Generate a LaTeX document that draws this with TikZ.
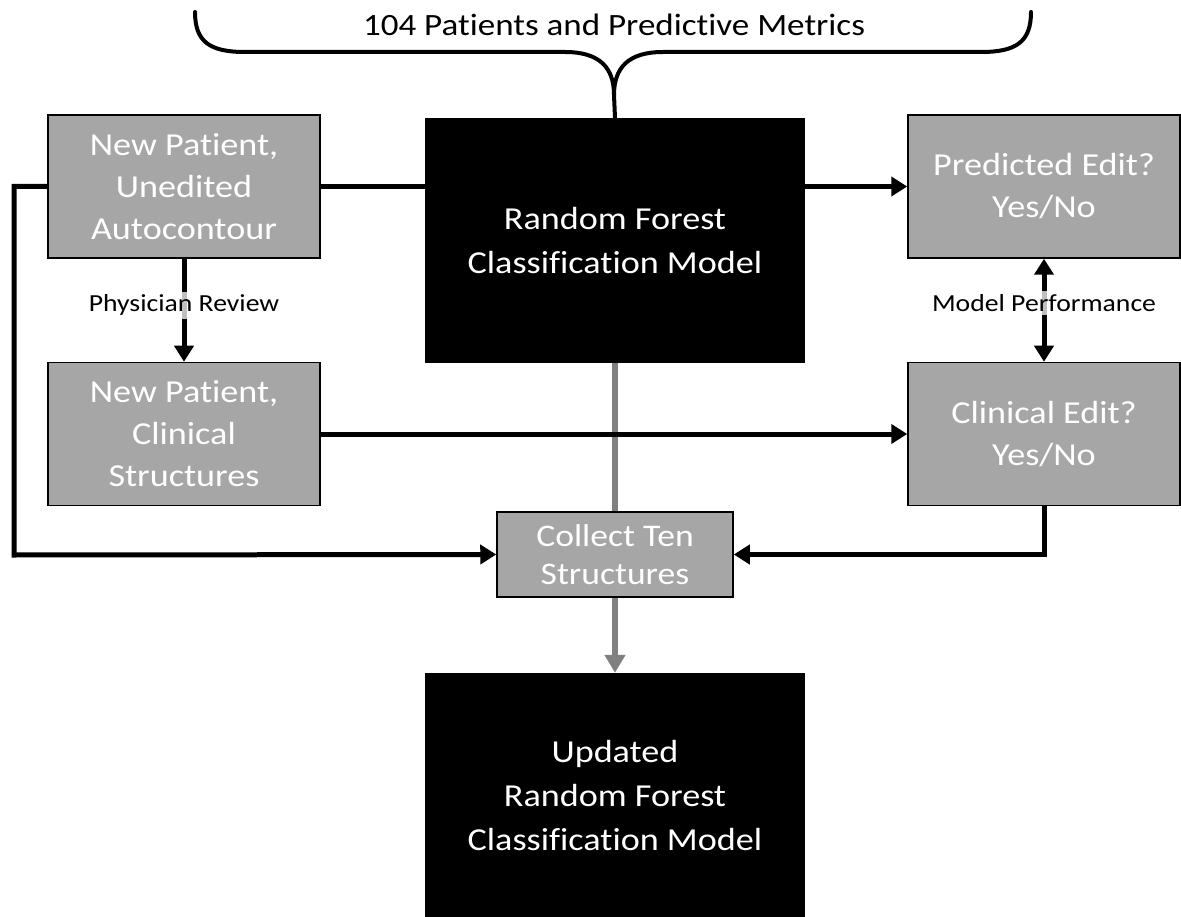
\documentclass[tikz,border=0pt]{standalone}
\usepackage{fontspec}
\setmainfont{Carlito}[FakeStretch=1.13, Ligatures=NoCommon]
\usetikzlibrary{arrows.meta,calc}
\pgfdeclarelayer{bg}
\pgfsetlayers{bg,main}
\definecolor{boxgray}{HTML}{A6A6A6}
\definecolor{linegray}{HTML}{808080}
\tikzset{
  graybox/.style={draw=black, line width=1.5pt, fill=boxgray, text=white, align=center,
    font=\fontsize{32}{42}\selectfont, minimum width=272pt, minimum height=143pt, inner sep=0pt},
  blackbox/.style={fill=black, text=white, align=center,
    font=\fontsize{32}{44}\selectfont, minimum width=380pt, minimum height=245pt, inner sep=0pt},
  conn/.style={line width=5pt, draw=black},
  gconn/.style={line width=6pt, draw=linegray},
  tip/.style={-{Triangle[length=16pt,width=19pt]}},
  bitip/.style={{Triangle[length=16pt,width=19pt]}-{Triangle[length=16pt,width=19pt]}},
  lbl/.style={fill=white, fill opacity=0.75, text opacity=1, text=black,
    font=\fontsize{24.5}{28}\selectfont, inner sep=3pt},
  bracelbl/.style={text=black, font=\fontsize{31}{36}\selectfont},
}
\begin{document}
\begin{tikzpicture}[x=1pt,y=-1pt]
\useasboundingbox (0,0) rectangle (1181,917);
% nodes
\node[graybox] (A) at (184,186.5) {New Patient,\\Unedited\\Autocontour};
\node[blackbox] (RF) at (615,240.5) {Random Forest\\Classification Model};
\node[graybox] (P) at (1044,186.5) {Predicted Edit?\\Yes/No};
\node[graybox] (B) at (184,434) {New Patient,\\Clinical\\Structures};
\node[graybox] (C) at (1044,434) {Clinical Edit?\\Yes/No};
\node[graybox, minimum width=236pt, minimum height=85pt, font=\fontsize{31.5}{38}\selectfont] (T) at (615,554.5) {Collect Ten\\Structures};
\node[blackbox] (U) at (615,795.5) {Updated\\Random Forest\\Classification Model};
% brace
\node[bracelbl] (L) at (614,25) {104 Patients and Predictive Metrics};
\coordinate (bt) at (RF.north);
\draw[line width=4pt, line cap=round] (195,12) .. controls (195,42) and (210,52) .. (245,52)
  -- (565,52) .. controls (600,52) and (614,68) .. (614,95) -- (bt);
\draw[line width=4pt, line cap=round] (1031,12) .. controls (1031,42) and (1016,52) .. (981,52)
  -- (663,52) .. controls (628,52) and (614,68) .. (614,95);
% connectors
\begin{pgfonlayer}{bg}
\draw[gconn, -{Triangle[length=18pt,width=20pt]}] (RF.south) -- (U.north);
\draw[conn, tip] (A.east) -- (P.west);
\draw[conn, tip] (B.east) -- (C.west);
\draw[conn, tip] (A.south) -- node[lbl, pos=0.45] {Physician Review} (B.north);
\draw[conn, bitip] (P.south) -- node[lbl, pos=0.43] {Model Performance} (C.north);
\draw[conn, tip] (A.west) -- (14,186.5) -- (14,555) -- (T.west);
\draw[conn, tip] (C.south) |- (T.east);
\end{pgfonlayer}
\end{tikzpicture}
\end{document}
